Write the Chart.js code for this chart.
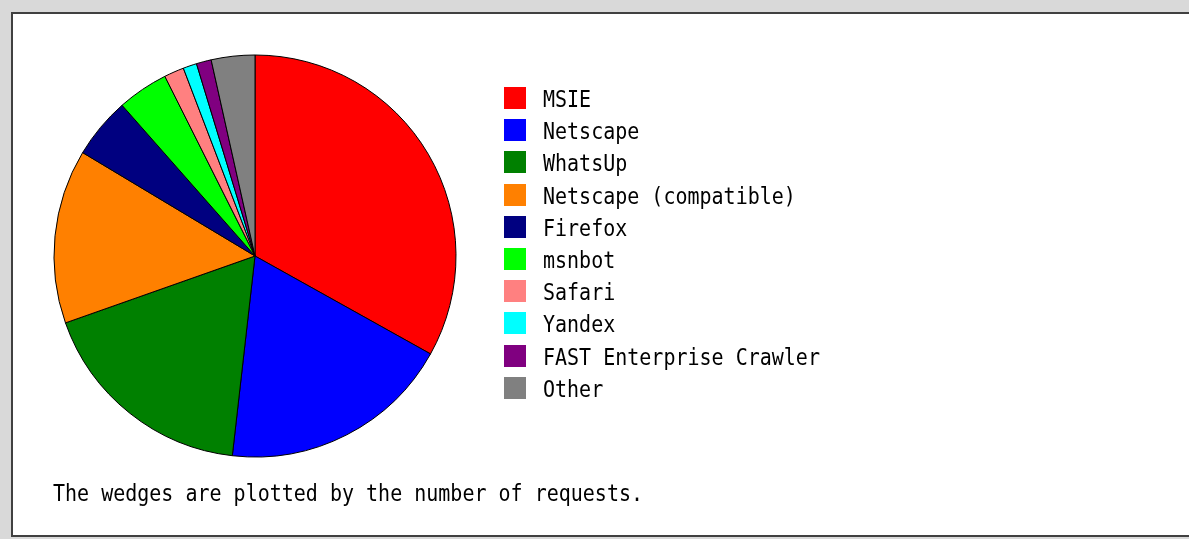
<!DOCTYPE html>
<html>
<head>
<meta charset="utf-8">
<script src="https://cdn.jsdelivr.net/npm/chart.js@4/dist/chart.umd.min.js"></script>
<style>
  html, body { margin: 0; padding: 0; width: 1189px; height: 539px; overflow: hidden; background: #d9d9d9; }
  #frame { position: absolute; left: 11px; top: 12px; width: 1200px; height: 521px; background: #fff;
           border-top: 2px solid #404040; border-left: 2px solid #404040; border-bottom: 2px solid #404040; }
  #c { position: absolute; left: 0; top: 0; }
</style>
</head>
<body>
<div id="frame"></div>
<canvas id="c" width="1189" height="539"></canvas>
<script>
const categories = ["MSIE", "Netscape", "WhatsUp", "Netscape (compatible)", "Firefox", "msnbot", "Safari", "Yandex", "FAST Enterprise Crawler", "Other"];
const requestShares = [33.1, 18.7, 17.8, 14.0, 4.9, 4.1, 1.6, 1.1, 1.2, 3.5];
const sliceColors = ["#ff0000", "#0000ff", "#008000", "#ff8000", "#000080", "#00ff00", "#ff8080", "#00ffff", "#800080", "#808080"];
const captionText = "The wedges are plotted by the number of requests.";

const FONT = '20px "DejaVu Sans Mono", "Liberation Mono", monospace';

const sideLegend = {
  id: 'sideLegend',
  afterDraw(chart) {
    const ctx = chart.ctx;
    const labels = chart.data.labels;
    const colors = chart.data.datasets[0].backgroundColor;
    ctx.save();
    ctx.font = FONT;
    ctx.textBaseline = 'alphabetic';
    ctx.textAlign = 'left';
    for (let i = 0; i < labels.length; i++) {
      const top = Math.round(87 + 32.2 * i);
      ctx.fillStyle = colors[i];
      ctx.fillRect(504, top, 22, 22);
      ctx.fillStyle = '#000';
      ctx.save();
      ctx.translate(543, Math.round(107 + 32.2 * i));
      ctx.scale(1, 1.12);
      ctx.fillText(labels[i], 0, 0);
      ctx.restore();
    }
    ctx.save();
    ctx.translate(53, 501);
    ctx.scale(1, 1.12);
    ctx.fillStyle = '#000';
    ctx.fillText(captionText, 0, 0);
    ctx.restore();
    ctx.restore();
  }
};

new Chart(document.getElementById('c'), {
  type: 'pie',
  data: {
    labels: categories,
    datasets: [{
      data: requestShares,
      backgroundColor: sliceColors,
      borderColor: '#000',
      borderWidth: 1
    }]
  },
  options: {
    responsive: false,
    animation: false,
    layout: { padding: { left: 53.5, top: 54.5, right: 732.5, bottom: 81.5 } },
    plugins: {
      legend: { display: false },
      tooltip: { enabled: false },
      title: { display: false }
    }
  },
  plugins: [sideLegend]
});
</script>
</body>
</html>
